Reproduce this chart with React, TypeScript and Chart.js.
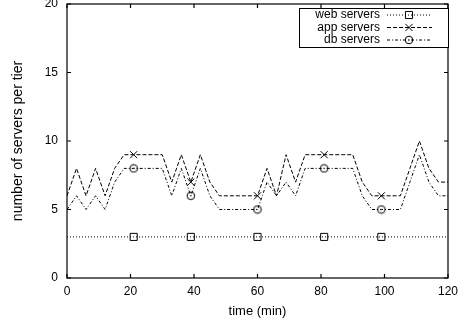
import React, { useEffect, useRef } from "react";
import { Chart, registerables } from "chart.js";
import { drawPoint } from "chart.js/helpers";

Chart.register(...registerables);

const FONT_FAMILY = "'Liberation Sans', Arial, Helvetica, sans-serif";

// time in minutes
const times = [0, 3, 6, 9, 12, 15, 18, 21, 24, 27, 30, 33, 36, 39, 42, 45, 48, 51, 54, 57, 60, 63, 66, 69, 72, 75, 78, 81, 84, 87, 90, 93, 96, 99, 102, 105, 108, 111, 114, 117, 120];
const webServers = [3, 3, 3, 3, 3, 3, 3, 3, 3, 3, 3, 3, 3, 3, 3, 3, 3, 3, 3, 3, 3, 3, 3, 3, 3, 3, 3, 3, 3, 3, 3, 3, 3, 3, 3, 3, 3, 3, 3, 3, 3];
const appServers = [6, 8, 6, 8, 6, 8, 9, 9, 9, 9, 9, 7, 9, 7, 9, 7, 6, 6, 6, 6, 6, 8, 6, 9, 7, 9, 9, 9, 9, 9, 9, 7, 6, 6, 6, 6, 8, 10, 8, 7, 7];
const dbServers = [5, 6, 5, 6, 5, 7, 8, 8, 8, 8, 8, 6, 8, 6, 8, 6, 5, 5, 5, 5, 5, 7, 6, 7, 6, 8, 8, 8, 8, 8, 8, 6, 5, 5, 5, 5, 7, 9, 7, 6, 6];
const markerTimes = [21, 39, 60, 81, 99];
const seriesNames = ["web servers", "app servers", "db servers"];
const xTickValues = [0, 20, 40, 60, 80, 100, 120];
const yTickValues = [0, 5, 10, 15, 20];
const xTitle = "time (min)";
const yTitle = "number of servers per tier";

function makeCircleDot(): HTMLCanvasElement {
  const c = document.createElement("canvas");
  c.width = 10;
  c.height = 10;
  const g = c.getContext("2d")!;
  g.strokeStyle = "#000";
  g.lineWidth = 1;
  g.beginPath();
  g.arc(5, 5, 3.8, 0, Math.PI * 2);
  g.stroke();
  g.fillStyle = "#000";
  g.fillRect(4.5, 4.5, 1, 1);
  return c;
}

export default function App() {
  const canvasRef = useRef<HTMLCanvasElement | null>(null);

  useEffect(() => {
    const canvas = canvasRef.current;
    if (!canvas) return;
    const circleDot = makeCircleDot();

    const styles = [
      { dash: [1, 2], point: "rect" as any, radius: 5 },
      { dash: [4, 2], point: "crossRot" as any, radius: 5 },
      { dash: [3, 2, 1, 2], point: circleDot as any, radius: 4 },
    ];
    const seriesValues = [webServers, appServers, dbServers];

    const datasets = seriesValues.map((vals, si) => ({
      label: seriesNames[si],
      data: times.map((t, i) => ({ x: t, y: vals[i] })),
      borderColor: "#000",
      backgroundColor: "rgba(0,0,0,0)",
      borderWidth: 1,
      borderDash: styles[si].dash,
      pointStyle: styles[si].point,
      pointBorderColor: "#000",
      pointBackgroundColor: "rgba(0,0,0,0)",
      pointBorderWidth: 1,
      pointRadius: (ctx: any) =>
        ctx.raw && markerTimes.includes(ctx.raw.x) ? styles[si].radius : 0,
      tension: 0,
      fill: false,
    }));

    const framePlugin = {
      id: "frame",
      beforeDatasetsDraw(chart: any) {
        const { ctx, chartArea: a, scales } = chart;
        ctx.save();
        ctx.strokeStyle = "#000";
        ctx.lineWidth = 1.2;
        ctx.setLineDash([]);
        ctx.strokeRect(a.left, a.top, a.right - a.left, a.bottom - a.top);
        const tl = 4;
        ctx.beginPath();
        xTickValues.forEach((v) => {
          const x = scales.x.getPixelForValue(v);
          ctx.moveTo(x, a.bottom);
          ctx.lineTo(x, a.bottom - tl);
          ctx.moveTo(x, a.top);
          ctx.lineTo(x, a.top + tl);
        });
        yTickValues.forEach((v) => {
          const y = scales.y.getPixelForValue(v);
          ctx.moveTo(a.left, y);
          ctx.lineTo(a.left + tl, y);
          ctx.moveTo(a.right, y);
          ctx.lineTo(a.right - tl, y);
        });
        ctx.stroke();
        ctx.restore();
      },
    };

    const legendPlugin = {
      id: "gpLegend",
      afterDraw(chart: any) {
        const { ctx, chartArea: a } = chart;
        ctx.save();
        const boxL = a.right - 149;
        const boxT = a.top + 4;
        const boxB = a.top + 43;
        ctx.fillStyle = "#fff";
        ctx.fillRect(boxL, boxT, a.right - boxL, boxB - boxT);
        ctx.strokeStyle = "#000";
        ctx.lineWidth = 1;
        ctx.setLineDash([]);
        ctx.strokeRect(boxL + 0.5, boxT + 0.5, a.right - boxL, boxB - boxT);
        ctx.font = `12px ${FONT_FAMILY}`;
        ctx.textAlign = "right";
        ctx.textBaseline = "middle";
        const rowY = [a.top + 11, a.top + 23.5, a.top + 36];
        const textX = a.right - 68;
        const s0 = a.right - 61;
        const s1 = a.right - 16;
        const mx = a.right - 39;
        seriesNames.forEach((name, i) => {
          ctx.fillStyle = "#000";
          ctx.fillText(name, textX, rowY[i]);
          ctx.save();
          ctx.setLineDash(styles[i].dash);
          ctx.lineWidth = 1;
          ctx.beginPath();
          ctx.moveTo(s0, rowY[i]);
          ctx.lineTo(s1, rowY[i]);
          ctx.stroke();
          ctx.restore();
          ctx.setLineDash([]);
          ctx.fillStyle = "rgba(0,0,0,0)";
          ctx.strokeStyle = "#000";
          drawPoint(
            ctx,
            {
              pointStyle: styles[i].point,
              radius: styles[i].radius,
              rotation: 0,
              borderWidth: 1,
            } as any,
            mx,
            rowY[i]
          );
        });
        ctx.restore();
      },
    };

    const chart = new Chart(canvas, {
      type: "line",
      data: { datasets: datasets as any },
      options: {
        animation: false,
        responsive: true,
        maintainAspectRatio: false,
        events: [],
        layout: { padding: { top: 4, right: 18, left: 0, bottom: 0 } },
        plugins: {
          legend: { display: false },
          tooltip: { enabled: false },
        },
        scales: {
          x: {
            type: "linear",
            min: 0,
            max: 120,
            afterBuildTicks: (scale: any) => {
              scale.ticks = xTickValues.map((v) => ({ value: v }));
            },
            afterFit: (scale: any) => {
              scale.height = 47;
              scale.paddingLeft = 0;
              scale.paddingRight = 0;
            },
            grid: { display: false, drawTicks: false },
            border: { display: false },
            ticks: {
              color: "#000",
              padding: 6,
              maxRotation: 0,
              autoSkip: false,
              font: { family: FONT_FAMILY, size: 12 },
            },
            title: {
              display: true,
              text: xTitle,
              color: "#000",
              padding: { top: 0, bottom: 6 },
              font: { family: FONT_FAMILY, size: 13 },
            },
          },
          y: {
            type: "linear",
            min: 0,
            max: 20,
            afterBuildTicks: (scale: any) => {
              scale.ticks = yTickValues.map((v) => ({ value: v }));
            },
            afterFit: (scale: any) => {
              scale.width = 67;
              scale.paddingTop = 0;
              scale.paddingBottom = 0;
            },
            grid: { display: false, drawTicks: false },
            border: { display: false },
            ticks: {
              color: "#000",
              padding: 9,
              autoSkip: false,
              font: { family: FONT_FAMILY, size: 12 },
            },
            title: {
              display: true,
              text: yTitle,
              color: "#000",
              padding: { top: 10, bottom: 0 },
              font: { family: FONT_FAMILY, size: 14 },
            },
          },
        },
      },
      plugins: [framePlugin, legendPlugin],
    });

    return () => chart.destroy();
  }, []);

  return (
    <div
      style={{
        position: "absolute",
        left: 0,
        top: 0,
        width: 466,
        height: 325,
        background: "#fff",
      }}
    >
      <canvas ref={canvasRef} />
    </div>
  );
}
